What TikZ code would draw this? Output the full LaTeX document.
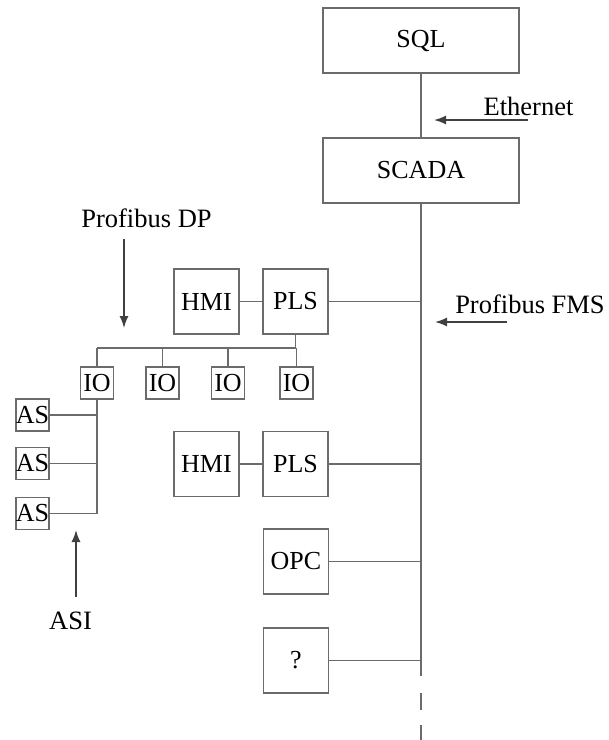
\documentclass[tikz,border=0pt]{standalone}
\usepackage{fontspec}
\setmainfont{Liberation Serif}
\usetikzlibrary{arrows.meta}
\begin{document}
\begin{tikzpicture}[x=1pt,y=-1pt,
  ln/.style={draw=black!58,line width=1.5pt},
  bigbox/.style={ln,fill=white,minimum width=196pt,minimum height=65pt,inner sep=0pt,font=\fontsize{26}{30}\selectfont},
  sqbox/.style={ln,fill=white,minimum width=65pt,minimum height=65pt,inner sep=0pt,font=\fontsize{26}{30}\selectfont},
  smbox/.style={ln,fill=white,minimum width=33pt,minimum height=32pt,inner sep=0pt,font=\fontsize{26}{30}\selectfont},
  lbl/.style={inner sep=0pt,anchor=base,font=\fontsize{26.5}{30}\selectfont},
  arr/.style={ln,-{Latex[length=12pt,width=9pt]},draw=black!75}
]
\useasboundingbox (0,0) rectangle (609,740);
% bus
\coordinate (busend) at (421,676);
\coordinate (d1a) at (421,693);
\coordinate (d1b) at (421,710);
\coordinate (d2a) at (421,725);
\coordinate (d2b) at (421,740);
\node[bigbox] (sql) at (421,40.5) {SQL};
\node[bigbox] (scada) at (421,170.5) {SCADA};
\node[sqbox] (hmi1) at (206.5,301.5) {HMI};
\node[sqbox] (pls1) at (295.5,301.5) {PLS};
\node[sqbox] (hmi2) at (206.5,464) {HMI};
\node[sqbox] (pls2) at (295.5,464) {PLS};
\node[sqbox] (opc) at (296,561.5) {OPC};
\node[sqbox] (q) at (296,660.5) {?};
\node[smbox] (io1) at (97,383) {IO};
\node[smbox] (io2) at (162.5,383) {IO};
\node[smbox] (io3) at (228,383) {IO};
\node[smbox] (io4) at (296.5,383) {IO};
\node[smbox] (as1) at (32.5,415) {AS};
\node[smbox] (as2) at (32.5,463.5) {AS};
\node[smbox] (as3) at (32.5,513.5) {AS};
% main bus
\draw[ln] (sql.south) -- (scada.north);
\draw[ln] (scada.south) -- (busend);
\draw[ln] (d1a) -- (d1b);
\draw[ln] (d2a) -- (d2b);
\draw[ln] (pls1.east) -- (pls1.east -| busend);
\draw[ln] (pls2.east) -- (pls2.east -| busend);
\draw[ln] (opc.east) -- (opc.east -| busend);
\draw[ln] (q.east) -- (q.east -| busend);
\draw[ln] (hmi1) -- (pls1);
\draw[ln] (hmi2) -- (pls2);
% profibus DP
\coordinate (dpl) at (97,348);
\coordinate (dpr) at (296,348);
\draw[ln] (pls1.south) -- (pls1.south |- dpr);
\draw[ln] (dpl) -- (dpr);
\draw[ln] (io1.north) -- (io1.north |- dpl);
\draw[ln] (io2.north) -- (io2.north |- dpl);
\draw[ln] (io3.north) -- (io3.north |- dpl);
\draw[ln] (io4.north) -- (io4.north |- dpl);
% ASI
\coordinate (asiend) at (97,513.5);
\draw[ln] (io1.south) -- (asiend);
\draw[ln] (as1.east) -- (as1.east -| asiend);
\draw[ln] (as2.east) -- (as2.east -| asiend);
\draw[ln] (as3.east) -- (asiend);
% labels
\node[lbl] (eth) at (528.5,115) {Ethernet};
\node[lbl] (dp) at (146.5,227) {Profibus DP};
\node[lbl] (fms) at (530,313) {Profibus FMS};
\node[lbl] (asi) at (70.5,629) {ASI};
\coordinate (etha) at (528,120);
\coordinate (ethb) at (434,120);
\coordinate (dpa) at (124,239);
\coordinate (dpb) at (124,328);
\coordinate (fmsa) at (507,322);
\coordinate (fmsb) at (435,322);
\coordinate (asia) at (76,597);
\coordinate (asib) at (76,530);
\draw[arr] (etha) -- (ethb);
\draw[arr] (dpa) -- (dpb);
\draw[arr] (fmsa) -- (fmsb);
\draw[arr] (asia) -- (asib);
\end{tikzpicture}
\end{document}
